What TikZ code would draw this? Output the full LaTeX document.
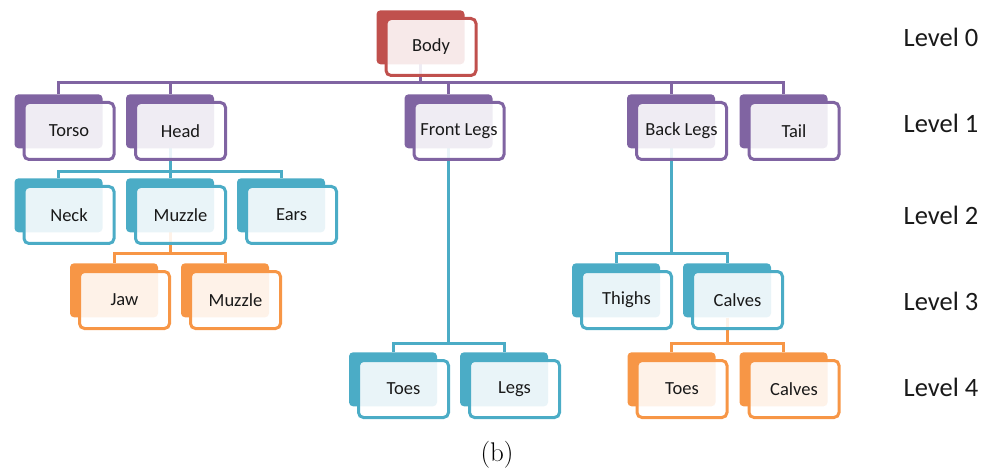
\documentclass[tikz,border=0pt]{standalone}
\usepackage{fontspec}
\newfontfamily\carl{Carlito}
\usetikzlibrary{backgrounds}
\definecolor{cred}{HTML}{C0504D}
\definecolor{cpurple}{HTML}{8064A2}
\definecolor{cblue}{HTML}{4BACC6}
\definecolor{corange}{HTML}{F79646}
\tikzset{
  backbox/.style={fill=#1, draw=none, rounded corners=4pt, minimum width=88pt, minimum height=54pt, inner sep=0pt},
  frontbox/.style={draw=#1, line width=3pt, fill=white, fill opacity=0.88, text opacity=1, rounded corners=5pt, minimum width=90pt, minimum height=57pt, inner sep=0pt, font=\carl\fontsize{18.5}{22}\selectfont, text=black!90},
  conn/.style={draw=#1, line width=3pt},
  levellabel/.style={font=\carl\fontsize{26.5}{30}\selectfont, text=black!90},
}
\newcommand\hnode[5]{%
  \node[backbox=#4] (#1B) at (#2-10.5,-#3+9.7) {};
  \node[frontbox=#4] (#1) at (#2,-#3) {#5};
}
\begin{document}
\begin{tikzpicture}[x=1pt,y=1pt]
\useasboundingbox (0,0) rectangle (995,-470);
% level 0
\hnode{body}{431}{47}{cred}{Body}
% level 1
\hnode{torso}{69}{131}{cpurple}{Torso}
\hnode{head}{180.5}{131}{cpurple}{Head}
\hnode{front}{459}{131}{cpurple}{Front Legs}
\hnode{back}{681.5}{131}{cpurple}{Back Legs}
\hnode{tail}{794}{131}{cpurple}{Tail}
% level 2
\hnode{neck}{69}{215}{cblue}{Neck}
\hnode{muzzle}{180.5}{215}{cblue}{Muzzle}
\hnode{ears}{291.5}{215}{cblue}{Ears}
% level 3
\hnode{jaw}{124.5}{300}{corange}{Jaw}
\hnode{muzzletwo}{235.5}{300}{corange}{Muzzle}
\hnode{thighs}{626.5}{300}{cblue}{Thighs}
\hnode{calves}{737.5}{300}{cblue}{Calves}
% level 4
\hnode{toesf}{403.5}{389}{cblue}{Toes}
\hnode{legs}{514.5}{389}{cblue}{Legs}
\hnode{toesb}{682}{389}{corange}{Toes}
\hnode{calvestwo}{794}{389}{corange}{Calves}
% junction coordinates
\coordinate (j0) at (bodyB.south |- 0,-83);
\coordinate (j1) at (headB.south |- 0,-172);
\coordinate (j2) at (muzzleB.south |- 0,-253.5);
\coordinate (j3) at (frontB.south |- 0,-343.5);
\coordinate (j4) at (backB.south |- 0,-254);
\coordinate (j5) at (calvesB.south |- 0,-343.5);
\begin{pgfonlayer}{background}
\draw[conn=cpurple] (bodyB.south) -- (j0);
\draw[conn=cpurple] (torsoB.north) |- (j0) -| (tailB.north);
\draw[conn=cpurple] (headB.north) -- (headB.north |- j0);
\draw[conn=cpurple] (frontB.north) -- (frontB.north |- j0);
\draw[conn=cpurple] (backB.north) -- (backB.north |- j0);
\draw[conn=cblue] (headB.south) -- (j1);
\draw[conn=cblue] (neckB.north) |- (j1) -| (earsB.north);
\draw[conn=cblue] (muzzleB.north) -- (muzzleB.north |- j1);
\draw[conn=corange] (muzzleB.south) -- (j2);
\draw[conn=corange] (jawB.north) |- (j2) -| (muzzletwoB.north);
\draw[conn=cblue] (frontB.south) -- (j3);
\draw[conn=cblue] (toesfB.north) |- (j3) -| (legsB.north);
\draw[conn=cblue] (backB.south) -- (j4);
\draw[conn=cblue] (thighsB.north) |- (j4) -| (calvesB.north);
\draw[conn=corange] (calvesB.south) -- (j5);
\draw[conn=corange] (toesbB.north) |- (j5) -| (calvestwoB.north);
\end{pgfonlayer}
% level labels
\node[levellabel] (l0) at (941,-37) {Level 0};
\node[levellabel] (l1) at (941,-123) {Level 1};
\node[levellabel] (l2) at (941,-215) {Level 2};
\node[levellabel] (l3) at (941,-301) {Level 3};
\node[levellabel] (l4) at (941,-387) {Level 4};
% caption
\node[font=\fontsize{27}{30}\selectfont] (cap) at (497,-455) {(b)};
\end{tikzpicture}
\end{document}
